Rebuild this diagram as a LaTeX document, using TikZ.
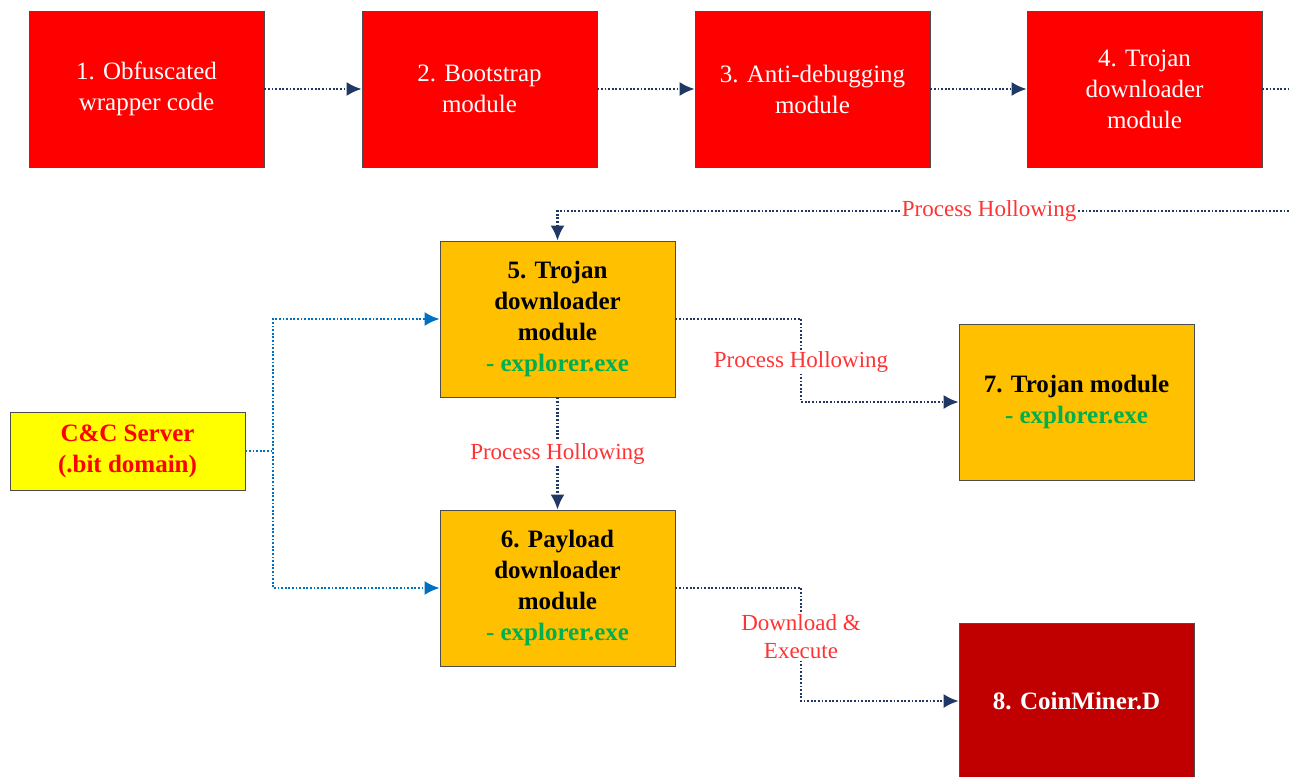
\documentclass[tikz,border=0pt]{standalone}
\usepackage{fontspec}
\setmainfont{Liberation Serif}
\usetikzlibrary{arrows.meta}
\definecolor{modred}{HTML}{FF0000}
\definecolor{modorange}{HTML}{FFC000}
\definecolor{ccyellow}{HTML}{FFFF00}
\definecolor{minerred}{HTML}{C00000}
\definecolor{exegreen}{HTML}{00B050}
\definecolor{flownavy}{HTML}{1F3864}
\definecolor{flowblue}{HTML}{0070C0}
\definecolor{lblred}{HTML}{FF3333}
\begin{document}
\begin{tikzpicture}[x=0.5pt, y=-0.5pt,
  every node/.style={font=\fontsize{12.5}{15.5}\selectfont},
  md/.style={draw=black!70,minimum width=117.5pt,minimum height=78pt,align=center,inner sep=2pt},
  flow/.style={flownavy,line width=1.1pt,dash pattern=on 0.9pt off 0.9pt,-{Latex[length=7.5pt,width=7pt]}},
  cnc/.style={flowblue,line width=1.1pt,dash pattern=on 0.9pt off 0.9pt,-{Latex[length=7.5pt,width=7pt]}},
  lbl/.style={font=\fontsize{11.5}{14}\selectfont,text=lblred,fill=white,inner sep=1pt,align=center}]
\useasboundingbox (0,0) rectangle (1289,776);
\node[md,fill=modred,text=white] (obf) at (146.5,89) {1. Obfuscated\\wrapper code};
\node[md,fill=modred,text=white] (boot) at (479.5,89) {2. Bootstrap\\module};
\node[md,fill=modred,text=white] (anti) at (812.5,89) {3. Anti-debugging\\module};
\node[md,fill=modred,text=white] (troj) at (1144.5,89) {4. Trojan\\downloader\\module};
\node[md,fill=modorange,font=\fontsize{12.5}{15.5}\selectfont\bfseries] (trojexp) at (557.5,319) {5. Trojan\\downloader\\module\\{\color{exegreen}- explorer.exe}};
\node[md,fill=modorange,font=\fontsize{12.5}{15.5}\selectfont\bfseries] (payload) at (557.5,588) {6. Payload\\downloader\\module\\{\color{exegreen}- explorer.exe}};
\node[md,fill=modorange,font=\fontsize{12.5}{15.5}\selectfont\bfseries] (trojmod) at (1076.5,402) {7. Trojan module\\{\color{exegreen}- explorer.exe}};
\node[md,fill=minerred,text=white,font=\fontsize{12.5}{15.5}\selectfont\bfseries] (miner) at (1076.5,701) {8. CoinMiner.D};
\node[md,fill=ccyellow,text=red,minimum height=39pt,font=\fontsize{12.5}{15.5}\selectfont\bfseries] (cnc) at (127.5,451) {C\&C Server\\(.bit domain)};
\coordinate (offA) at (1289,89);
\coordinate (offB) at (1289,211);
% upper chain
\draw[flow] (obf) -- (boot);
\draw[flow] (boot) -- (anti);
\draw[flow] (anti) -- (troj);
\draw[flow,-] (troj) -- (offA);
\draw[flow] (offB) -- (557.5,211) node[pos=0.41,lbl] {Process Hollowing} -- (trojexp);
% C&C server
\draw[cnc] (cnc.east) -- (273,451) |- (trojexp.west);
\draw[cnc] (cnc.east) -- (273,451) |- (payload.west);
% injections
\draw[flow] (trojexp) -- (payload) node[midway,lbl] {Process Hollowing};
\draw[flow] (trojexp.east) -| (801,362) node[lbl] {Process Hollowing} |- (trojmod.west);
\draw[flow] (payload.east) -| (801,637) node[lbl] {Download \&\\Execute} |- (miner.west);
\end{tikzpicture}
\end{document}
